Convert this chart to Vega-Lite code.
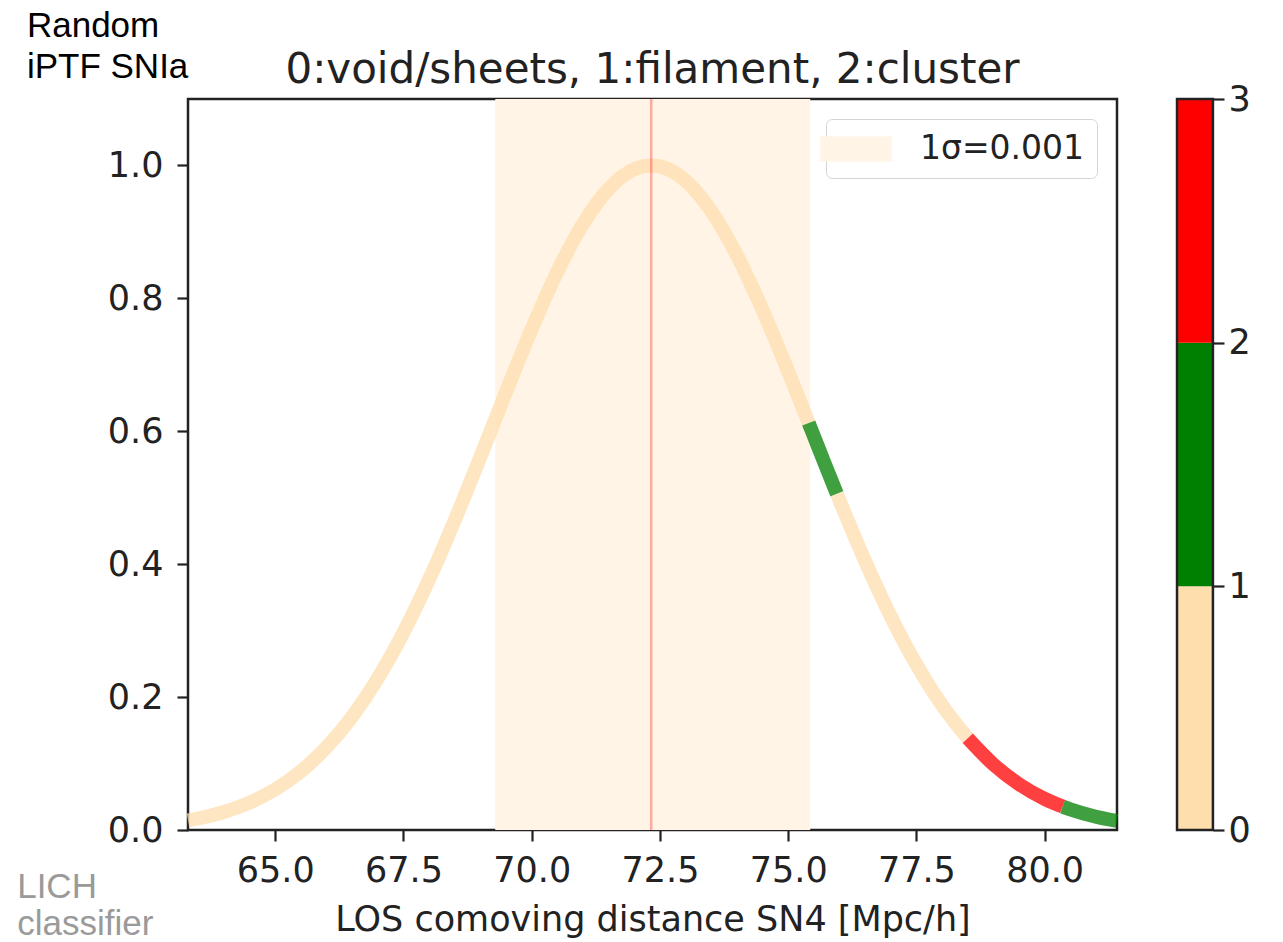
{
  "$schema": "https://vega.github.io/schema/vega-lite/v6.json",
  "width": 929,
  "height": 731,
  "autosize": {"type": "none"},
  "padding": {"left": 188, "top": 99, "right": 166, "bottom": 112},
  "background": "white",
  "config": {
    "view": {"stroke": "#222", "strokeWidth": 2.5},
    "font": "DejaVu Sans",
    "axis": {"grid": false, "domain": false, "tickSize": 11, "tickWidth": 2.2, "tickColor": "#222",
             "labelFont": "DejaVu Sans", "labelFontSize": 35, "labelColor": "#222",
             "titleFont": "DejaVu Sans", "titleFontSize": 35, "titleFontWeight": "normal", "titleColor": "#222"}
  },
  "datasets": {
    "curve": [
      {"x": 63.3, "y": 0.0144, "seg": "A", "cls": "0"},
      {"x": 63.5, "y": 0.0173, "seg": "A", "cls": "0"},
      {"x": 64.0, "y": 0.0271, "seg": "A", "cls": "0"},
      {"x": 64.5, "y": 0.0412, "seg": "A", "cls": "0"},
      {"x": 65.0, "y": 0.0611, "seg": "A", "cls": "0"},
      {"x": 65.5, "y": 0.0883, "seg": "A", "cls": "0"},
      {"x": 66.0, "y": 0.1244, "seg": "A", "cls": "0"},
      {"x": 66.5, "y": 0.1706, "seg": "A", "cls": "0"},
      {"x": 67.0, "y": 0.2281, "seg": "A", "cls": "0"},
      {"x": 67.5, "y": 0.2971, "seg": "A", "cls": "0"},
      {"x": 68.0, "y": 0.3770, "seg": "A", "cls": "0"},
      {"x": 68.5, "y": 0.4662, "seg": "A", "cls": "0"},
      {"x": 69.0, "y": 0.5616, "seg": "A", "cls": "0"},
      {"x": 69.5, "y": 0.6592, "seg": "A", "cls": "0"},
      {"x": 70.0, "y": 0.7539, "seg": "A", "cls": "0"},
      {"x": 70.5, "y": 0.8401, "seg": "A", "cls": "0"},
      {"x": 71.0, "y": 0.9121, "seg": "A", "cls": "0"},
      {"x": 71.5, "y": 0.9648, "seg": "A", "cls": "0"},
      {"x": 72.0, "y": 0.9944, "seg": "A", "cls": "0"},
      {"x": 72.33, "y": 1.0, "seg": "A", "cls": "0"},
      {"x": 72.5, "y": 0.9985, "seg": "A", "cls": "0"},
      {"x": 73.0, "y": 0.9769, "seg": "A", "cls": "0"},
      {"x": 73.5, "y": 0.9313, "seg": "A", "cls": "0"},
      {"x": 74.0, "y": 0.8649, "seg": "A", "cls": "0"},
      {"x": 74.5, "y": 0.7827, "seg": "A", "cls": "0"},
      {"x": 75.0, "y": 0.6901, "seg": "A", "cls": "0"},
      {"x": 75.4, "y": 0.6124, "seg": "A", "cls": "0"},
      {"x": 75.4, "y": 0.6124, "seg": "B", "cls": "1"},
      {"x": 75.5, "y": 0.5929, "seg": "B", "cls": "1"},
      {"x": 75.7, "y": 0.5538, "seg": "B", "cls": "1"},
      {"x": 75.95, "y": 0.5057, "seg": "B", "cls": "1"},
      {"x": 75.95, "y": 0.5057, "seg": "C", "cls": "0"},
      {"x": 76.0, "y": 0.4962, "seg": "C", "cls": "0"},
      {"x": 76.5, "y": 0.4047, "seg": "C", "cls": "0"},
      {"x": 77.0, "y": 0.3215, "seg": "C", "cls": "0"},
      {"x": 77.5, "y": 0.2489, "seg": "C", "cls": "0"},
      {"x": 78.0, "y": 0.1877, "seg": "C", "cls": "0"},
      {"x": 78.5, "y": 0.1380, "seg": "C", "cls": "0"},
      {"x": 78.5, "y": 0.1380, "seg": "D", "cls": "2"},
      {"x": 79.0, "y": 0.0988, "seg": "D", "cls": "2"},
      {"x": 79.5, "y": 0.0689, "seg": "D", "cls": "2"},
      {"x": 80.0, "y": 0.0468, "seg": "D", "cls": "2"},
      {"x": 80.35, "y": 0.0352, "seg": "D", "cls": "2"},
      {"x": 80.35, "y": 0.0352, "seg": "E", "cls": "1"},
      {"x": 80.5, "y": 0.0310, "seg": "E", "cls": "1"},
      {"x": 81.0, "y": 0.0200, "seg": "E", "cls": "1"},
      {"x": 81.41, "y": 0.0137, "seg": "E", "cls": "1"}
    ],
    "band": [{"lo": 69.29, "hi": 75.43, "lab": "1σ=0.001"}],
    "mean": [{"mu": 72.33}],
    "cbar": [
      {"lo": 0, "hi": 1, "cls": "0"},
      {"lo": 1, "hi": 2, "cls": "1"},
      {"lo": 2, "hi": 3, "cls": "2"}
    ]
  },
  "layer": [
    {
      "layer": [
        {
          "data": {"name": "band"},
          "mark": {"type": "rect"},
          "encoding": {
            "x": {"field": "lo", "type": "quantitative", "scale": {"domain": [63.3, 81.41], "nice": false, "zero": false},
                  "axis": {"values": [65, 67.5, 70, 72.5, 75, 77.5, 80], "format": ".1f", "title": "LOS comoving distance SN4 [Mpc/h]", "labelPadding": 12, "titlePadding": 14}},
            "x2": {"field": "hi"},
            "fill": {"field": "lab", "type": "nominal", "scale": {"domain": ["1σ=0.001"], "range": ["#FFF4E5"]},
                     "legend": {"orient": "top-right", "offset": 20, "title": null,
                                "symbolType": "M-2,-0.7L2,-0.7L2,0.7L-2,0.7Z", "symbolSize": 1296, "symbolStrokeWidth": 0, "symbolOpacity": 1,
                                "labelFontSize": 33, "labelFont": "DejaVu Sans", "labelColor": "#222", "labelOffset": 46, "labelLimit": 400,
                                "padding": 12, "fillColor": "white", "strokeColor": "#d4d4d4", "cornerRadius": 6}}
          }
        },
        {
          "data": {"name": "curve"},
          "mark": {"type": "line", "strokeWidth": 14, "strokeCap": "butt", "opacity": 0.75, "interpolate": "monotone"},
          "encoding": {
            "x": {"field": "x", "type": "quantitative", "scale": {"domain": [63.3, 81.41], "nice": false, "zero": false},
                  "axis": {"values": [65, 67.5, 70, 72.5, 75, 77.5, 80], "format": ".1f", "title": "LOS comoving distance SN4 [Mpc/h]", "labelPadding": 12, "titlePadding": 14}},
            "y": {"field": "y", "type": "quantitative", "scale": {"domain": [0, 1.1], "nice": false, "zero": false},
                  "axis": {"values": [0, 0.2, 0.4, 0.6, 0.8, 1.0], "format": ".1f", "title": null, "labelPadding": 14}},
            "detail": {"field": "seg"},
            "stroke": {"field": "cls", "type": "nominal", "scale": {"domain": ["0", "1", "2"], "range": ["#FFDEAD", "#008000", "#FF0000"]}, "legend": null}
          }
        },
        {
          "data": {"name": "mean"},
          "mark": {"type": "rule", "color": "#FF0000", "opacity": 0.3, "strokeWidth": 2.5},
          "encoding": {
            "x": {"field": "mu", "type": "quantitative", "scale": {"domain": [63.3, 81.41], "nice": false, "zero": false},
                  "axis": {"values": [65, 67.5, 70, 72.5, 75, 77.5, 80], "format": ".1f", "title": "LOS comoving distance SN4 [Mpc/h]", "labelPadding": 12, "titlePadding": 14}}
          }
        },
        {
          "data": {"values": [{}]},
          "mark": {"type": "text", "text": "0:void/sheets, 1:filament, 2:cluster", "font": "DejaVu Sans", "fontSize": 42, "align": "center", "baseline": "alphabetic", "color": "#222"},
          "encoding": {
            "x": {"datum": 72.355, "type": "quantitative", "scale": {"domain": [63.3, 81.41], "nice": false, "zero": false},
                  "axis": {"values": [65, 67.5, 70, 72.5, 75, 77.5, 80], "format": ".1f", "title": "LOS comoving distance SN4 [Mpc/h]", "labelPadding": 12, "titlePadding": 14}},
            "y": {"datum": 1.124, "type": "quantitative", "scale": {"domain": [0, 1.1], "nice": false, "zero": false},
                  "axis": {"values": [0, 0.2, 0.4, 0.6, 0.8, 1.0], "format": ".1f", "title": null, "labelPadding": 14}}
          }
        },
        {
          "data": {"values": [{}]},
          "mark": {"type": "text", "text": ["Random", "iPTF SNIa"], "font": "Liberation Sans", "fontSize": 35, "lineHeight": 41, "align": "left", "baseline": "alphabetic", "color": "#000"},
          "encoding": {
            "x": {"datum": 60.16, "type": "quantitative", "scale": {"domain": [63.3, 81.41], "nice": false, "zero": false},
                  "axis": {"values": [65, 67.5, 70, 72.5, 75, 77.5, 80], "format": ".1f", "title": "LOS comoving distance SN4 [Mpc/h]", "labelPadding": 12, "titlePadding": 14}},
            "y": {"datum": 1.193, "type": "quantitative", "scale": {"domain": [0, 1.1], "nice": false, "zero": false},
                  "axis": {"values": [0, 0.2, 0.4, 0.6, 0.8, 1.0], "format": ".1f", "title": null, "labelPadding": 14}}
          }
        },
        {
          "data": {"values": [{}]},
          "mark": {"type": "text", "text": ["LICH", "classifier"], "font": "Liberation Sans", "fontSize": 35, "lineHeight": 37, "align": "left", "baseline": "alphabetic", "color": "#9a9a9a"},
          "encoding": {
            "x": {"datum": 59.97, "type": "quantitative", "scale": {"domain": [63.3, 81.41], "nice": false, "zero": false},
                  "axis": {"values": [65, 67.5, 70, 72.5, 75, 77.5, 80], "format": ".1f", "title": "LOS comoving distance SN4 [Mpc/h]", "labelPadding": 12, "titlePadding": 14}},
            "y": {"datum": -0.103, "type": "quantitative", "scale": {"domain": [0, 1.1], "nice": false, "zero": false},
                  "axis": {"values": [0, 0.2, 0.4, 0.6, 0.8, 1.0], "format": ".1f", "title": null, "labelPadding": 14}}
          }
        }
      ]
    },
    {
      "layer": [
        {
          "data": {"name": "cbar"},
          "mark": {"type": "rect"},
          "encoding": {
            "x": {"datum": 82.58, "type": "quantitative", "scale": {"domain": [63.3, 81.41], "nice": false, "zero": false},
                  "axis": {"values": [65, 67.5, 70, 72.5, 75, 77.5, 80], "format": ".1f", "title": "LOS comoving distance SN4 [Mpc/h]", "labelPadding": 12, "titlePadding": 14}},
            "x2": {"datum": 83.28},
            "y": {"field": "lo", "type": "quantitative", "scale": {"domain": [0, 3], "nice": false},
                  "axis": {"orient": "right", "offset": 96, "values": [0, 1, 2, 3], "format": "d", "title": null, "labelPadding": 4}},
            "y2": {"field": "hi"},
            "color": {"field": "cls", "type": "nominal", "scale": {"domain": ["0", "1", "2"], "range": ["#FFDEAD", "#008000", "#FF0000"]}, "legend": null}
          }
        },
        {
          "data": {"values": [{}]},
          "mark": {"type": "rect", "fill": null, "fillOpacity": 0, "stroke": "#222", "strokeWidth": 2.5},
          "encoding": {
            "x": {"datum": 82.58, "type": "quantitative", "scale": {"domain": [63.3, 81.41], "nice": false, "zero": false},
                  "axis": {"values": [65, 67.5, 70, 72.5, 75, 77.5, 80], "format": ".1f", "title": "LOS comoving distance SN4 [Mpc/h]", "labelPadding": 12, "titlePadding": 14}},
            "x2": {"datum": 83.28},
            "y": {"datum": 0, "type": "quantitative", "scale": {"domain": [0, 3], "nice": false},
                  "axis": {"orient": "right", "offset": 96, "values": [0, 1, 2, 3], "format": "d", "title": null, "labelPadding": 4}},
            "y2": {"datum": 3}
          }
        }
      ]
    }
  ],
  "resolve": {"scale": {"y": "independent", "color": "independent", "fill": "independent", "stroke": "independent"}}
}
